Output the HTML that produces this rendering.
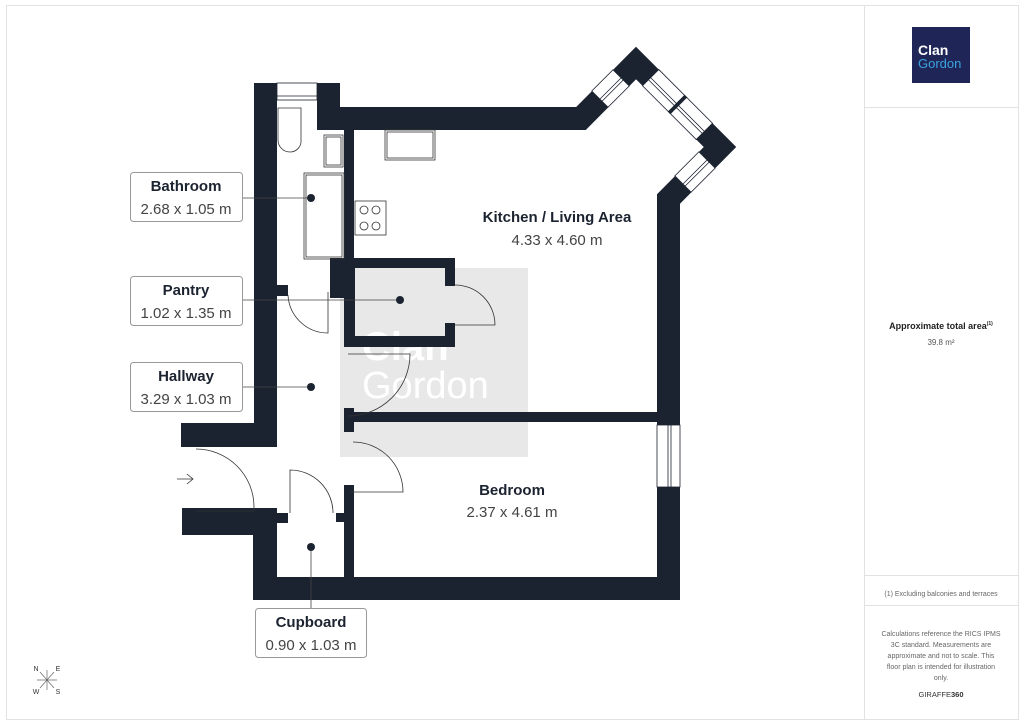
<!DOCTYPE html>
<html><head><meta charset="utf-8"><style>
html,body{margin:0;padding:0;background:#fff;}
svg{display:block;font-family:"Liberation Sans",sans-serif;}
</style></head><body>
<svg width="1024" height="725" viewBox="0 0 1024 725" xmlns="http://www.w3.org/2000/svg">
<rect x="0" y="0" width="1024" height="725" fill="#fff"/>
<rect x="6.5" y="5.5" width="1012" height="714" fill="none" stroke="#e2e2e2"/>
<line x1="864.5" y1="5" x2="864.5" y2="719" stroke="#e2e2e2"/>
<line x1="864" y1="107.5" x2="1018" y2="107.5" stroke="#e2e2e2"/>
<line x1="864" y1="575.5" x2="1018" y2="575.5" stroke="#e2e2e2"/>
<line x1="864" y1="605.5" x2="1018" y2="605.5" stroke="#e2e2e2"/>
<rect x="912" y="27" width="58" height="56" fill="#1f2657"/>
<text x="918" y="55" font-size="14" font-weight="bold" fill="#fff">Clan</text>
<text x="918" y="68" font-size="13" fill="#3aa3e0">Gordon</text>
<text x="941" y="329" font-size="9" font-weight="bold" fill="#222" text-anchor="middle">Approximate total area<tspan font-size="5" dy="-4">(1)</tspan></text>
<text x="941" y="345" font-size="8" fill="#555" text-anchor="middle">39.8 m²</text>
<text x="941" y="596" font-size="7" fill="#666" text-anchor="middle">(1) Excluding balconies and terraces</text>
<g font-size="7" fill="#666" text-anchor="middle">
<text x="941" y="636">Calculations reference the RICS IPMS</text>
<text x="941" y="647">3C standard. Measurements are</text>
<text x="941" y="658">approximate and not to scale. This</text>
<text x="941" y="669">floor plan is intended for illustration</text>
<text x="941" y="680">only.</text>
</g>
<text x="941" y="697" font-size="7.5" fill="#333" text-anchor="middle">GIRAFFE<tspan font-weight="bold">360</tspan></text>

<!-- watermark -->
<rect x="340" y="268" width="188" height="189" fill="#e8e8e8"/>
<text x="362" y="360" font-size="40" font-weight="bold" fill="#fff">Clan</text>
<text x="362" y="398" font-size="38" fill="#fff">Gordon</text>

<g fill="#1c2330">
<!-- left wall -->
<rect x="254" y="83" width="23" height="364"/>
<rect x="181" y="423" width="96" height="24"/>
<rect x="182" y="508" width="95" height="27"/>
<rect x="277" y="513" width="11" height="10"/>
<rect x="253" y="508" width="24" height="92"/>
<rect x="253" y="577" width="427" height="23"/>
<rect x="336" y="513" width="9" height="9"/>
<rect x="344" y="485" width="10" height="95"/>
<!-- top -->
<rect x="317" y="83" width="23" height="47"/>
<rect x="344" y="130" width="10" height="130"/>
<!-- pantry -->
<rect x="330" y="258" width="125" height="10"/>
<rect x="330" y="258" width="25" height="40"/>
<rect x="344" y="258" width="11" height="89"/>
<rect x="344" y="336" width="111" height="11"/>
<rect x="445" y="258" width="10" height="28"/>
<rect x="445" y="323" width="10" height="24"/>
<rect x="277" y="285" width="11" height="11"/>
<!-- divider -->
<rect x="344" y="408" width="10" height="24"/>
<rect x="344" y="412" width="313" height="10"/>
</g>
<!-- outer wall polyline -->
<polyline points="328,118.5 581,118.5 636,63 720,147 668.5,199 668.5,600" fill="none" stroke="#1c2330" stroke-width="23" stroke-linejoin="miter"/>
<!-- windows -->
<g stroke="#1c2330" stroke-width="0.8" fill="#fff">
<g transform="translate(610.5,88.5) rotate(-45)"><rect x="-15" y="-11.5" width="30" height="23"/><line x1="-15" y1="0" x2="15" y2="0"/><line x1="-15" y1="3" x2="15" y2="3"/></g>
<g transform="translate(677.5,104.5) rotate(45)"><rect x="-38" y="-11.5" width="76" height="23"/><line x1="-38" y1="0" x2="38" y2="0"/><line x1="-38" y1="3" x2="38" y2="3"/><rect x="-1.5" y="-11.5" width="3" height="23" fill="#1c2330"/></g>
<g transform="translate(695,172) rotate(-45)"><rect x="-17" y="-11.5" width="34" height="23"/><line x1="-17" y1="0" x2="17" y2="0"/><line x1="-17" y1="3" x2="17" y2="3"/></g>
<rect x="657" y="425" width="23" height="62"/><line x1="668" y1="425" x2="668" y2="487"/><line x1="671" y1="425" x2="671" y2="487"/>
<rect x="277" y="83" width="40" height="17"/><line x1="277" y1="96" x2="317" y2="96"/>
</g>
<!-- fixtures -->
<g stroke="#333" stroke-width="0.8" fill="none">
<path d="M278 108 H301 V140 A11 11 0 0 1 290 152 H290 A12 12 0 0 1 278 140 Z"/>
<rect x="324" y="135" width="19" height="32"/><rect x="326" y="137" width="15" height="28"/>
<rect x="304" y="173" width="40" height="86"/><rect x="306" y="175" width="36" height="82"/>
<rect x="355" y="201" width="31" height="34"/>
<circle cx="364" cy="210" r="4"/><circle cx="376" cy="210" r="4"/><circle cx="364" cy="226" r="4"/><circle cx="376" cy="226" r="4"/>
<rect x="385" y="130" width="50" height="30"/><rect x="387" y="132" width="46" height="26"/>
<!-- doors -->
<path d="M196 449 A58 58 0 0 1 254 507 V511 H196"/>
<path d="M290 513 V470 A43 43 0 0 1 333 513"/>
<path d="M353 442 A50 50 0 0 1 403 492 H350"/>
<path d="M348 416 A62 62 0 0 0 410 354 H348"/>
<path d="M455 285 A40 40 0 0 1 495 325 H455"/>
<path d="M288 295 A40 40 0 0 0 328 333 V292"/>
<path d="M177 479 H193 M187 474 L193 479 L187 484"/>
</g>
<!-- labels -->
<g stroke="#444" stroke-width="0.8">
<line x1="243" y1="198" x2="311" y2="198"/>
<line x1="243" y1="300" x2="400" y2="300"/>
<line x1="243" y1="387" x2="311" y2="387"/>
<line x1="311" y1="547" x2="311" y2="608"/>
</g>
<g fill="#1c2330"><circle cx="311" cy="198" r="4"/><circle cx="400" cy="300" r="4"/><circle cx="311" cy="387" r="4"/><circle cx="311" cy="547" r="4"/></g>
<g fill="#fff" stroke="#999" stroke-width="1">
<rect x="130.5" y="172.5" width="112" height="49" rx="3"/>
<rect x="130.5" y="276.5" width="112" height="49" rx="3"/>
<rect x="130.5" y="362.5" width="112" height="49" rx="3"/>
<rect x="255.5" y="608.5" width="111" height="49" rx="3"/>
</g>
<g text-anchor="middle" fill="#1c2330">
<text x="186" y="191" font-size="15" font-weight="bold">Bathroom</text><text x="186" y="214" font-size="15" fill="#444">2.68 x 1.05 m</text>
<text x="186" y="295" font-size="15" font-weight="bold">Pantry</text><text x="186" y="318" font-size="15" fill="#444">1.02 x 1.35 m</text>
<text x="186" y="381" font-size="15" font-weight="bold">Hallway</text><text x="186" y="404" font-size="15" fill="#444">3.29 x 1.03 m</text>
<text x="311" y="627" font-size="15" font-weight="bold">Cupboard</text><text x="311" y="650" font-size="15" fill="#444">0.90 x 1.03 m</text>
<text x="557" y="222" font-size="15" font-weight="bold">Kitchen / Living Area</text><text x="557" y="245" font-size="15" fill="#444">4.33 x 4.60 m</text>
<text x="512" y="495" font-size="15" font-weight="bold">Bedroom</text><text x="512" y="517" font-size="15" fill="#444">2.37 x 4.61 m</text>
</g>
<g font-size="7" fill="#333" text-anchor="middle">
<text x="36" y="671">N</text><text x="58" y="671">E</text><text x="36" y="694">W</text><text x="58" y="694">S</text>
</g>
<g stroke="#666" stroke-width="0.7"><line x1="40" y1="672" x2="54" y2="688"/><line x1="54" y1="672" x2="40" y2="688"/><line x1="47" y1="670" x2="47" y2="690"/><line x1="37" y1="680" x2="57" y2="680"/></g>
</svg>
</body></html>
